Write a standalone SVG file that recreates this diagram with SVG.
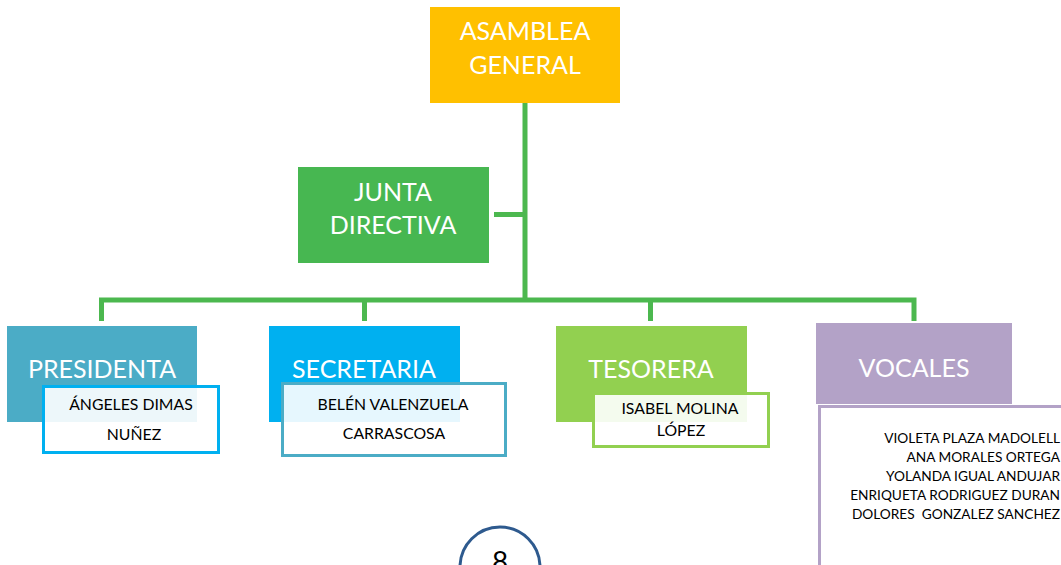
<svg xmlns="http://www.w3.org/2000/svg" width="1061" height="565" viewBox="0 0 1061 565">
<style>
.title{font-family:Lato,"Liberation Sans",sans-serif;font-size:25px;fill:#ffffff;text-anchor:middle}
.name{font-family:Lato,"Liberation Sans",sans-serif;font-size:15.8px;fill:#000000;text-anchor:middle}
.voc{font-family:Lato,"Liberation Sans",sans-serif;font-size:13.7px;fill:#000000;text-anchor:end;white-space:pre}
.conn{stroke:#4CB84F;stroke-width:5;fill:none;stroke-linejoin:miter}
.sub{fill:#ffffff;fill-opacity:0.9;stroke-width:3}
</style>
<rect width="1061" height="565" fill="#ffffff"/>
<g id="connectors">
<line class="conn" x1="525" y1="103" x2="525" y2="300"/>
<line class="conn" x1="494" y1="214.5" x2="525" y2="214.5"/>
<polyline class="conn" points="101.5,321 101.5,300 914,300 914,321"/>
<line class="conn" x1="364.5" y1="300" x2="364.5" y2="321"/>
<line class="conn" x1="650.5" y1="300" x2="650.5" y2="321"/>
</g>
<g id="asamblea">
<rect x="430" y="7" width="190" height="96" fill="#FFC000"/>
<text class="title" x="525" y="40">ASAMBLEA</text>
<text class="title" x="525" y="74">GENERAL</text>
</g>
<g id="junta">
<rect x="298" y="167" width="191" height="96" fill="#47B751"/>
<text class="title" x="393" y="201">JUNTA</text>
<text class="title" x="393" y="234">DIRECTIVA</text>
</g>
<g id="presidenta">
<rect x="7" y="326" width="190" height="96" fill="#4BACC6"/>
<text class="title" x="102" y="378">PRESIDENTA</text>
<rect class="sub" x="43.5" y="386.5" width="175" height="66" stroke="#00B0F0"/>
<text class="name" x="131" y="410">ÁNGELES DIMAS</text>
<text class="name" x="134" y="440">NUÑEZ</text>
</g>
<g id="secretaria">
<rect x="269" y="326" width="191" height="96" fill="#00B0F0"/>
<text class="title" x="364" y="378">SECRETARIA</text>
<rect class="sub" x="282.5" y="383.5" width="223" height="72" stroke="#4BACC6"/>
<text class="name" x="393" y="410">BELÉN VALENZUELA</text>
<text class="name" x="394" y="439">CARRASCOSA</text>
</g>
<g id="tesorera">
<rect x="556" y="326" width="191" height="96" fill="#92D050"/>
<text class="title" x="651" y="378">TESORERA</text>
<rect class="sub" x="593.5" y="393.5" width="175" height="53" stroke="#92D050"/>
<text class="name" x="680" y="414">ISABEL MOLINA</text>
<text class="name" x="681" y="436">LÓPEZ</text>
</g>
<g id="vocales">
<rect x="816" y="323" width="196" height="81" fill="#B3A2C7"/>
<text class="title" x="914" y="377">VOCALES</text>
<rect class="sub" x="819.5" y="406.5" width="260" height="180" stroke="#B3A2C7"/>
<text class="voc" x="1060" y="443">VIOLETA PLAZA MADOLELL</text>
<text class="voc" x="1060" y="462">ANA MORALES ORTEGA</text>
<text class="voc" x="1060" y="481">YOLANDA IGUAL ANDUJAR</text>
<text class="voc" x="1060" y="500">ENRIQUETA RODRIGUEZ DURAN</text>
<text class="voc" x="1060" y="519" xml:space="preserve">DOLORES  GONZALEZ SANCHEZ</text>
</g>
<g id="page">
<circle cx="500" cy="567" r="40" fill="#ffffff" stroke="#2E5A8E" stroke-width="3"/>
<text x="500" y="572" font-family="Lato,'Liberation Sans',sans-serif" font-size="28" fill="#000000" text-anchor="middle">8</text>
</g>
</svg>
